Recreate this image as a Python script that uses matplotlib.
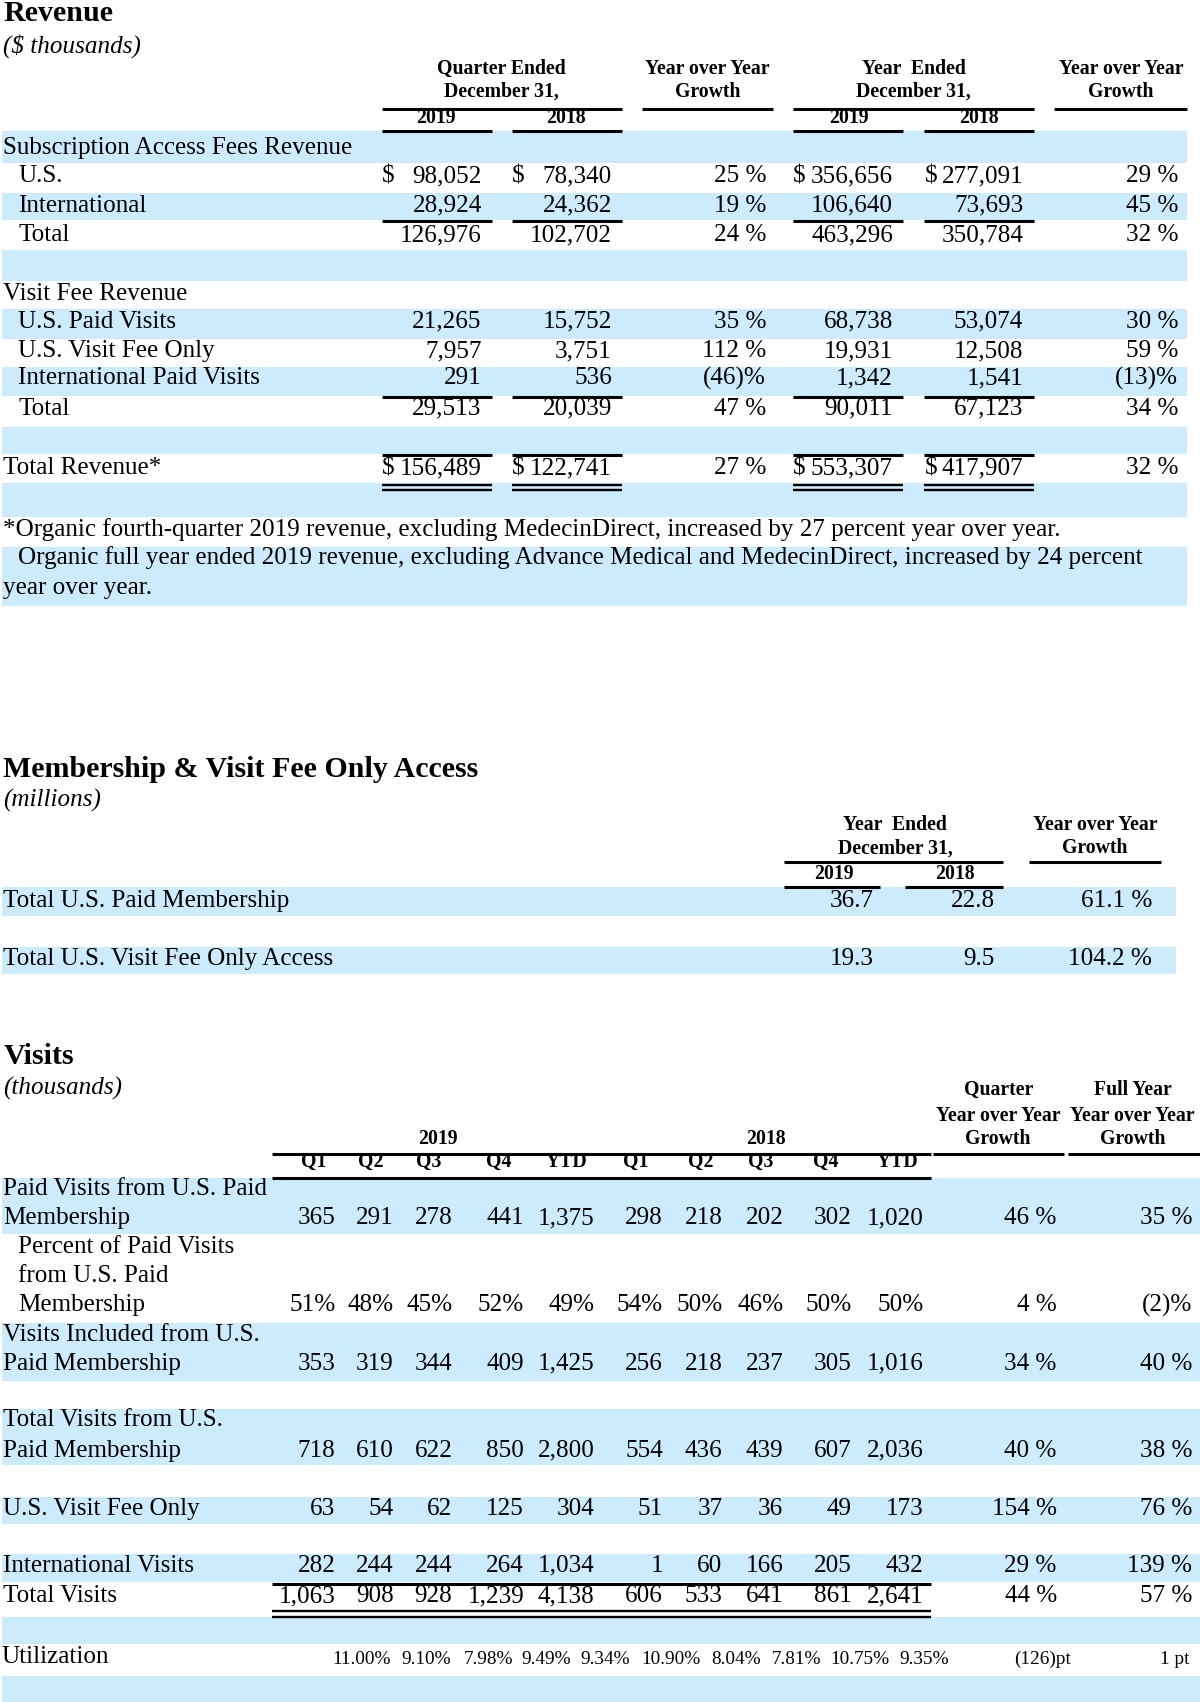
import matplotlib
matplotlib.use("Agg")
import matplotlib.pyplot as plt

plt.rcParams['font.family'] = ['Liberation Serif', 'DejaVu Serif']

# ---------------- DATA ----------------
# Revenue ($ thousands)
rev_titles = ["Revenue", "($ thousands)"]
rev_group_headers = [["Quarter Ended", "December 31,"], ["Year over Year", "Growth"],
                     ["Year  Ended", "December 31,"], ["Year over Year", "Growth"]]
rev_years = ["2019", "2018", "2019", "2018"]

sub_header = "Subscription Access Fees Revenue"
sub_labels = ["U.S.", "International", "Total"]
sub_q2019 = [98052, 28924, 126976]
sub_q2018 = [78340, 24362, 102702]
sub_q_growth = [25, 19, 24]
sub_y2019 = [356656, 106640, 463296]
sub_y2018 = [277091, 73693, 350784]
sub_y_growth = [29, 45, 32]

vf_header = "Visit Fee Revenue"
vf_labels = ["U.S. Paid Visits", "U.S. Visit Fee Only", "International Paid Visits", "Total"]
vf_q2019 = [21265, 7957, 291, 29513]
vf_q2018 = [15752, 3751, 536, 20039]
vf_q_growth = [35, 112, -46, 47]
vf_y2019 = [68738, 19931, 1342, 90011]
vf_y2018 = [53074, 12508, 1541, 67123]
vf_y_growth = [30, 59, -13, 34]

total_label = "Total Revenue*"
total_q2019 = 156489
total_q2018 = 122741
total_q_growth = 27
total_y2019 = 553307
total_y2018 = 417907
total_y_growth = 32

footnotes = ["*Organic fourth-quarter 2019 revenue, excluding MedecinDirect, increased by 27 percent year over year.",
             "Organic full year ended 2019 revenue, excluding Advance Medical and MedecinDirect, increased by 24 percent",
             "year over year."]

# Membership (millions)
mem_titles = ["Membership & Visit Fee Only Access", "(millions)"]
mem_headers = [["Year  Ended", "December 31,"], ["Year over Year", "Growth"]]
mem_years = ["2019", "2018"]
mem_labels = ["Total U.S. Paid Membership", "Total U.S. Visit Fee Only Access"]
mem_2019 = [36.7, 19.3]
mem_2018 = [22.8, 9.5]
mem_growth = [61.1, 104.2]

# Visits (thousands)
vis_titles = ["Visits", "(thousands)"]
vis_years = ["2019", "2018"]
vis_quarters = ["Q1", "Q2", "Q3", "Q4", "YTD"]
vis_growth_headers = [["Quarter", "Year over Year", "Growth"], ["Full Year", "Year over Year", "Growth"]]
vis_labels = [["Paid Visits from U.S. Paid", "Membership"],
              ["Percent of Paid Visits", "from U.S. Paid", "Membership"],
              ["Visits Included from U.S.", "Paid Membership"],
              ["Total Visits from U.S.", "Paid Membership"],
              ["U.S. Visit Fee Only"],
              ["International Visits"],
              ["Total Visits"]]
vis_is_pct = [False, True, False, False, False, False, False]
vis_2019 = [[365, 291, 278, 441, 1375],
            [51, 48, 45, 52, 49],
            [353, 319, 344, 409, 1425],
            [718, 610, 622, 850, 2800],
            [63, 54, 62, 125, 304],
            [282, 244, 244, 264, 1034],
            [1063, 908, 928, 1239, 4138]]
vis_2018 = [[298, 218, 202, 302, 1020],
            [54, 50, 46, 50, 50],
            [256, 218, 237, 305, 1016],
            [554, 436, 439, 607, 2036],
            [51, 37, 36, 49, 173],
            [1, 60, 166, 205, 432],
            [606, 533, 641, 861, 2641]]
vis_q_growth = [46, 4, 34, 40, 154, 29, 44]
vis_fy_growth = [35, -2, 40, 38, 76, 139, 57]
util_label = "Utilization"
util_2019 = [11.00, 9.10, 7.98, 9.49, 9.34]
util_2018 = [10.90, 8.04, 7.81, 10.75, 9.35]
util_q_growth = -126
util_fy_growth = 1

# ---------------- LAYOUT ----------------
W, H = 1106, 1568
fig = plt.figure(figsize=(12, 17.02), dpi=100)
ax = fig.add_axes([0, 0, 1, 1])
ax.set_xlim(0, W)
ax.set_ylim(H, 0)
ax.axis('off')

BLUE = '#CCEBFD'
FS = 18.1      # body
FH = 14.2      # bold column headers
FT = 21.6      # section titles
FU = 13.9      # utilization values
LW = 2.2


def band(y0, y1, x0=2, x1=1094):
    ax.fill_between([x0, x1], [y0, y0], [y1, y1], color=BLUE, lw=0, zorder=0)


def rule(y, segs, lw=LW):
    for x0, x1 in segs:
        ax.plot([x0, x1], [y, y], color='black', lw=lw, solid_capstyle='butt', zorder=5)


def txt(x, y, s, ha='left', size=FS, weight='normal', style='normal'):
    ax.text(x, y, s, ha=ha, va='baseline', fontsize=size, fontweight=weight,
            fontstyle=style, color='black', zorder=3)


def num(v):
    return f"{v:,}"


def growth(v):
    return f"{v} %" if v >= 0 else f"({-v})%"


# ======== Revenue ========
txt(3, 19, rev_titles[0], size=FT, weight='bold')
txt(3, 48, rev_titles[1], style='italic')

hdr_cx = [462, 652, 842, 1033]
for cx, (l1, l2) in zip(hdr_cx, rev_group_headers):
    txt(cx, 68.5, l1, ha='center', size=FH, weight='bold')
    txt(cx, 89, l2, ha='center', size=FH, weight='bold')
yr_cx = [402, 522, 782, 902]
for cx, y in zip(yr_cx, rev_years):
    txt(cx, 113, y, ha='center', size=FH, weight='bold')

top_segs = [(352, 573), (592, 712), (731, 953), (971, 1094)]
col_segs = [(352, 453), (472, 573), (731, 832), (852, 953)]
rule(100, top_segs)
rule(121, col_segs)

rev_bands = [(121, 150), (178, 203), (230, 259), (285, 312), (338, 365),
             (393, 418), (445, 476), (504, 558)]
for y0, y1 in rev_bands:
    band(y0, y1)

R_Q19, R_Q18, R_QG, R_Y19, R_Y18, R_YG = 444, 564, 706, 823, 943, 1086
DOLLAR_X = [352, 472, 731, 852]
OFF = 7


def rev_row(yc, label, lx, vals, dollars=False):
    yb = yc + OFF
    txt(lx, yb, label)
    q19, q18, qg, y19, y18, yg = vals
    txt(R_Q19, yb, num(q19), ha='right')
    txt(R_Q18, yb, num(q18), ha='right')
    txt(R_QG, yb, growth(qg), ha='right')
    txt(R_Y19, yb, num(y19), ha='right')
    txt(R_Y18, yb, num(y18), ha='right')
    txt(R_YG, yb, growth(yg), ha='right')
    if dollars:
        for dx in DOLLAR_X:
            txt(dx, yb, "$")


txt(3, 135 + OFF, sub_header)
sub_y = [161, 188, 215]
for i, yc in enumerate(sub_y):
    rev_row(yc, sub_labels[i], 17,
            (sub_q2019[i], sub_q2018[i], sub_q_growth[i], sub_y2019[i], sub_y2018[i], sub_y_growth[i]),
            dollars=(i == 0))
rule(204, col_segs)

txt(3, 269 + OFF, vf_header)
vf_y = [295, 322, 347, 375]
for i, yc in enumerate(vf_y):
    rev_row(yc, vf_labels[i], 17,
            (vf_q2019[i], vf_q2018[i], vf_q_growth[i], vf_y2019[i], vf_y2018[i], vf_y_growth[i]))
rule(366, col_segs)

rev_row(430, total_label, 3,
        (total_q2019, total_q2018, total_q_growth, total_y2019, total_y2018, total_y_growth),
        dollars=True)
rule(419.5, col_segs)
rule(446.5, col_segs, lw=1.7)
rule(451.5, col_segs, lw=1.7)

txt(3, 487 + OFF, footnotes[0])
txt(17, 513 + OFF, footnotes[1])
txt(3, 540 + OFF, footnotes[2])

# ======== Membership ========
txt(3, 716, mem_titles[0], size=FT, weight='bold')
txt(3, 743, mem_titles[1], style='italic')
for cx, (l1, l2) in zip([825, 1009], mem_headers):
    txt(cx, 765, l1, ha='center', size=FH, weight='bold')
    txt(cx, 786, l2, ha='center', size=FH, weight='bold')
for cx, y in zip([769, 880], mem_years):
    txt(cx, 810, y, ha='center', size=FH, weight='bold')
rule(794, [(723, 924), (948, 1070)])
rule(817, [(723, 811), (834, 924)])
band(817, 844, x1=1084)
band(872, 897, x1=1084)
for i, yc in enumerate([829, 882]):
    yb = yc + OFF
    txt(3, yb, mem_labels[i])
    txt(805, yb, f"{mem_2019[i]:.1f}", ha='right')
    txt(917, yb, f"{mem_2018[i]:.1f}", ha='right')
    txt(1062, yb, f"{mem_growth[i]:.1f} %", ha='right')

# ======== Visits ========
txt(3, 980, vis_titles[0], size=FT, weight='bold')
txt(3, 1008, vis_titles[1], style='italic')
for cx, lines in zip([920, 1044], vis_growth_headers):
    for yb, s in zip([1009, 1033, 1054], lines):
        txt(cx, yb, s, ha='center', size=FH, weight='bold')
txt(404, 1054, vis_years[0], ha='center', size=FH, weight='bold')
txt(706, 1054, vis_years[1], ha='center', size=FH, weight='bold')

q_cx = [289, 342, 395, 460, 522, 586, 646, 701, 761, 827]
q_lbls = vis_quarters + vis_quarters
for cx, s in zip(q_cx, q_lbls):
    txt(cx, 1075, s, ha='center', size=FH, weight='bold')

rule(1063, [(251, 858), (860, 981), (984, 1106)])
rule(1085, [(251, 858)])

vis_bands = [(1085, 1137), (1219, 1272), (1298, 1350), (1379, 1404),
             (1432, 1457), (1490, 1515), (1544, 1568)]
for y0, y1 in vis_bands:
    band(y0, y1, x0=2, x1=1106)

col_r = [309, 363, 417, 483, 548, 611, 666, 722, 785, 851]
R_VQG, R_VFG = 974, 1099
label_lines_y = [[1094, 1121], [1147, 1174, 1201], [1228, 1255], [1307, 1335],
                 [1389], [1441], [1469]]
for i, lines_y in enumerate(label_lines_y):
    lx = 17 if i == 1 else 3
    for s, yc in zip(vis_labels[i], lines_y):
        txt(lx, yc + OFF, s)
    yb = lines_y[-1] + OFF
    vals = vis_2019[i] + vis_2018[i]
    for x, v in zip(col_r, vals):
        s = f"{v}%" if vis_is_pct[i] else num(v)
        txt(x, yb, s, ha='right')
    txt(R_VQG, yb, growth(vis_q_growth[i]), ha='right')
    txt(R_VFG, yb, growth(vis_fy_growth[i]), ha='right')

rule(1459, [(251, 858)])
rule(1484.5, [(251, 858)], lw=1.7)
rule(1489.5, [(251, 858)], lw=1.7)

# Utilization
txt(1, 1532, util_label)
util_r = [360, 416, 473, 526, 581, 646, 701, 757, 820, 875]
for x, v in zip(util_r, util_2019 + util_2018):
    txt(x, 1533, f"{v:.2f}%", ha='right', size=FU)
ug = util_q_growth
txt(987, 1533, f"({-ug})pt" if ug < 0 else f"{ug} pt", ha='right', size=FU)
ug = util_fy_growth
txt(1096, 1533, f"({-ug})pt" if ug < 0 else f"{ug} pt", ha='right', size=FU)

fig.savefig("out.png", dpi=100, facecolor='white')
